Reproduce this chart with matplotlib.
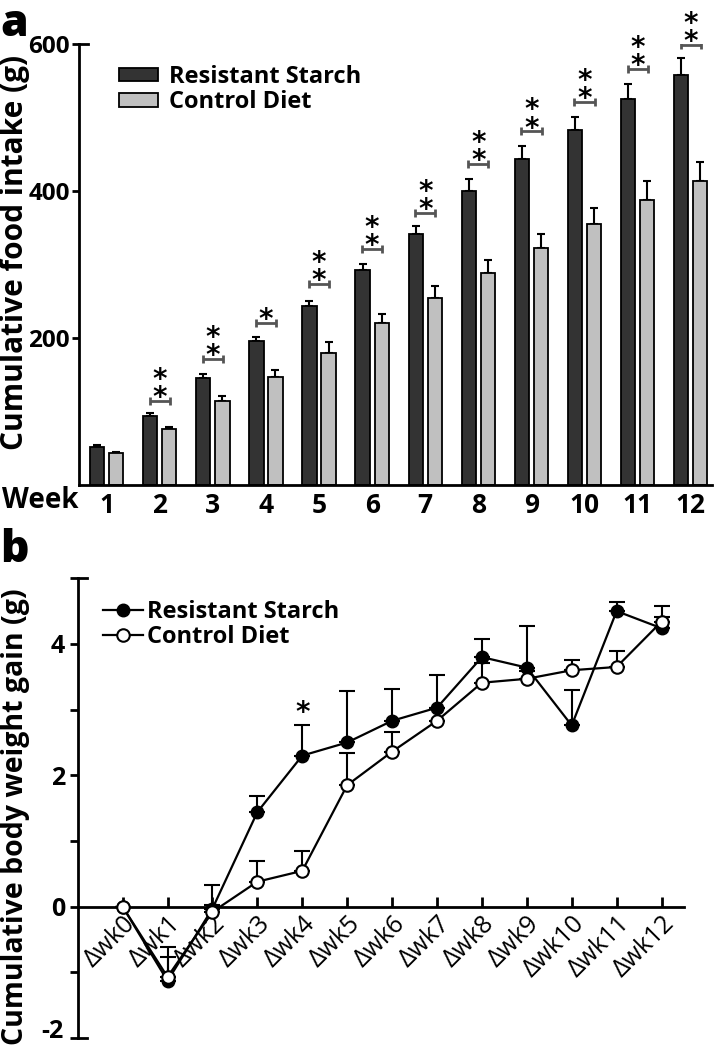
import numpy as np
import matplotlib
matplotlib.use('Agg')
import matplotlib.pyplot as plt

plt.rcParams['font.family'] = ['Open Sans', 'DejaVu Sans']

# panel a: cumulative food intake (g)
weeks = [1, 2, 3, 4, 5, 6, 7, 8, 9, 10, 11, 12]
rs_intake = [52, 94, 145, 196, 244, 292, 341, 400, 443, 483, 525, 558]
rs_err = [3, 3.5, 6, 5, 7, 9, 11, 17, 18, 18, 20, 23]
cd_intake = [43, 76, 114, 147, 180, 220, 255, 289, 322, 355, 388, 414]
cd_err = [1.5, 3, 7, 10, 14, 12, 16, 17, 20, 22, 26, 26]
sig_y = [None, 114, 172, 220, 274, 321, 370, 437, 481, 521, 566, 599]
sig_n = [0, 2, 2, 1, 2, 2, 2, 2, 2, 2, 2, 2]

# panel b: cumulative body weight gain (g)
wk_labels = ['\u0394wk%d' % i for i in range(13)]
rs_gain = [0, -1.13, -0.03, 1.44, 2.30, 2.50, 2.83, 3.03, 3.80, 3.64, 2.76, 4.50, 4.24]
rs_gerr = [0, 0.52, 0.36, 0.25, 0.47, 0.79, 0.49, 0.49, 0.27, 0.63, 0.54, 0.14, 0.17]
cd_gain = [0, -1.07, -0.08, 0.38, 0.545, 1.85, 2.36, 2.83, 3.41, 3.47, 3.60, 3.65, 4.34]
cd_gerr = [0, 0.31, 0.1, 0.31, 0.31, 0.49, 0.3, 0.2, 0.3, 0.12, 0.15, 0.25, 0.24]
sig_b = {4: 3.08}

W, H = 714, 1050
fig = plt.figure(figsize=(W / 100, H / 100), dpi=100)

def box(l, t, r, b):
    return [l / W, 1 - b / H, (r - l) / W, (b - t) / H]

STAR = 20      # star font size
STAR_C = 11.9  # glyph centre above baseline, pt
STAR_D = 4.7   # descent below baseline, pt

# ---------------- a ----------------
ax = fig.add_axes(box(79, 44, 712, 485))
x = np.array(weeks)
off, bw = 0.18, 0.27
ax.bar(x - off, rs_intake, bw, color='#333333', edgecolor='black', lw=1.3,
       label='Resistant Starch', zorder=2)
ax.bar(x + off, cd_intake, bw, color='#c0c0c0', edgecolor='black', lw=1.3,
       label='Control Diet', zorder=2)
ax.errorbar(x - off, rs_intake, yerr=[np.zeros(12), rs_err], fmt='none',
            ecolor='black', elinewidth=1.5, capsize=3, capthick=1.5, zorder=1)
ax.errorbar(x + off, cd_intake, yerr=[np.zeros(12), cd_err], fmt='none',
            ecolor='black', elinewidth=1.5, capsize=3, capthick=1.5, zorder=1)

for w, y, n in zip(weeks, sig_y, sig_n):
    if n == 0:
        continue
    ax.errorbar(w, y, xerr=0.19, fmt='none', ecolor='#555555', elinewidth=2,
                capsize=3, capthick=2)
    ax.annotate('\n'.join(['*'] * n), (w, y), xytext=(0, 8.6 - STAR_C - STAR_D),
                textcoords='offset points', ha='center', va='bottom', fontsize=STAR,
                family='DejaVu Sans', fontweight='bold', linespacing=0.55,
                annotation_clip=False)

ax.set_xlim(0.48, 12.4)
ax.set_ylim(0, 600)
ax.set_yticks([200, 400, 600])
ax.set_xticks(weeks)
ax.tick_params(axis='x', length=0, pad=5, labelsize=19)
ax.tick_params(axis='y', length=5, width=2, direction='out', pad=1.5, labelsize=17.5)
for t in ax.get_xticklabels() + ax.get_yticklabels():
    t.set_fontweight('bold')
for s in ['top', 'right']:
    ax.spines[s].set_visible(False)
for s in ['left', 'bottom']:
    ax.spines[s].set_linewidth(2)
ax.plot([0, 0.015], [600, 600], color='black', lw=2, transform=ax.get_yaxis_transform(),
        clip_on=False)
ax.legend(loc='upper left', bbox_to_anchor=(119 / W, 1 - 65 / H), bbox_transform=fig.transFigure,
          frameon=False, prop={'weight': 'bold', 'size': 17},
          handlelength=1.65, handleheight=0.5, handletextpad=0.45, labelspacing=0.05,
          borderpad=0, borderaxespad=0)
fig.text(2 / W, 1 - 500 / H, 'Week', fontsize=20, fontweight='bold', va='center', ha='left')
fig.text(15 / W, 1 - 252 / H, 'Cumulative food intake (g)', fontsize=21.5, fontweight='bold',
         rotation=90, ha='center', va='center')
fig.text(0, 1 - 2 / H, 'a', fontsize=32, fontweight='heavy', ha='left', va='top')

# ---------------- b ----------------
bx = fig.add_axes(box(77.7, 578.3, 684, 1038))
for s in ['top', 'right']:
    bx.spines[s].set_visible(False)
bx.spines['bottom'].set_position(('data', 0))
for s in ['left', 'bottom']:
    bx.spines[s].set_linewidth(2)

xb = np.arange(13)
bx.errorbar(xb, rs_gain, yerr=[np.zeros(13), rs_gerr], fmt='none', ecolor='black',
            elinewidth=1.5, capsize=6, capthick=1.5, zorder=2)
bx.errorbar(xb, cd_gain, yerr=[np.zeros(13), cd_gerr], fmt='none', ecolor='black',
            elinewidth=1.5, capsize=6, capthick=1.5, zorder=2)
bx.plot(xb, rs_gain, '-o', color='black', lw=1.6, ms=9, mfc='black', mec='black',
        label='Resistant Starch', zorder=3)
bx.plot(xb, cd_gain, '-o', color='black', lw=1.6, ms=9, mfc='white', mec='black',
        mew=1.5, label='Control Diet', zorder=4)
for i, y in sig_b.items():
    bx.annotate('*', (i, y), xytext=(0, -STAR_C), textcoords='offset points', ha='center',
                va='baseline', fontsize=STAR, family='DejaVu Sans', fontweight='bold')

bx.set_xlim(-1, 12.5)
bx.set_ylim(-2, 5)
bx.set_yticks([-2, -1, 0, 1, 2, 3, 4, 5])
bx.set_yticklabels(['', '', '0', '', '2', '', '4', ''])
bx.set_xticks(xb)
bx.set_xticklabels(wk_labels, rotation=45, ha='right', va='top', rotation_mode='anchor',
                   fontsize=18)
bx.tick_params(axis='x', direction='in', length=7, width=2, pad=3)
bx.tick_params(axis='y', direction='out', length=6, width=2, pad=3, labelsize=18)
for t in bx.get_yticklabels():
    t.set_fontweight('bold')
# bottom tick label placed by hand so it stays inside the canvas
bx.annotate('-2', (0, -2), xycoords=bx.get_yaxis_transform(), xytext=(-10, 0),
            textcoords='offset points', ha='right', va='baseline', fontsize=18,
            fontweight='bold', annotation_clip=False)
for yy in [5, -2]:
    bx.plot([0, 0.015], [yy, yy], color='black', lw=2, transform=bx.get_yaxis_transform(),
            clip_on=False)
bx.legend(loc='upper left', bbox_to_anchor=(103 / W, 1 - 600 / H), bbox_transform=fig.transFigure,
          frameon=False, prop={'weight': 'bold', 'size': 17}, handlelength=1.7,
          handletextpad=0.15, labelspacing=0.05, borderpad=0, borderaxespad=0)
fig.text(16 / W, 1 - 817 / H, 'Cumulative body weight gain (g)', fontsize=20.5, fontweight='bold',
         rotation=90, ha='center', va='center')
fig.text(0, 1 - 528 / H, 'b', fontsize=32, fontweight='heavy', ha='left', va='top')

fig.savefig('out.png', dpi=100)
